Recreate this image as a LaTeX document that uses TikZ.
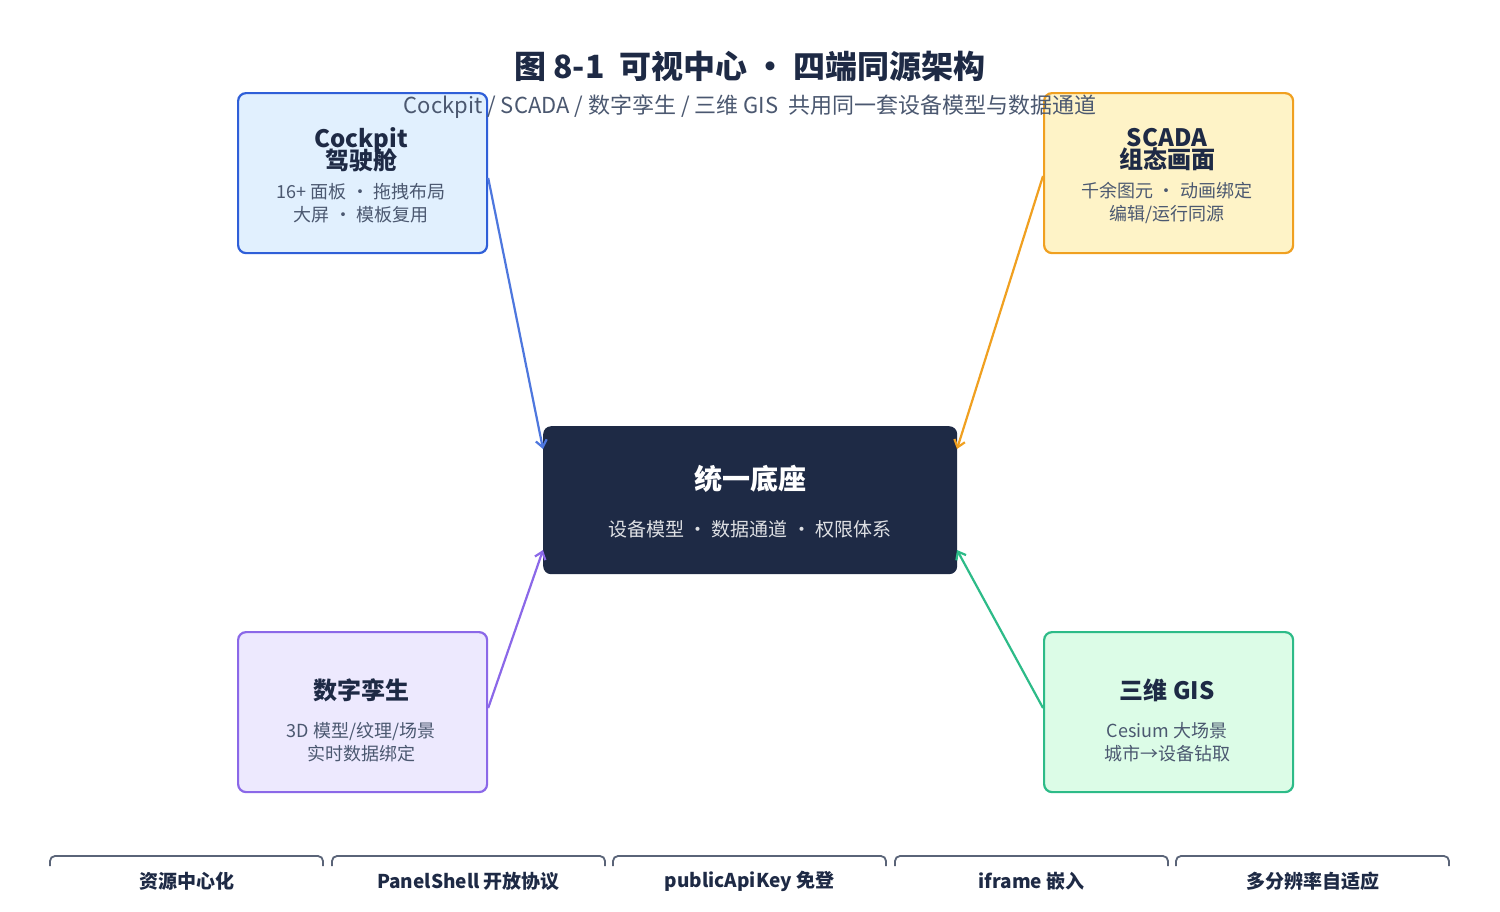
\documentclass[tikz,border=0pt]{standalone}
\usepackage{fontspec}
\setmainfont{Noto Sans CJK SC}
\usetikzlibrary{arrows.meta}
\definecolor{navy}{HTML}{1E2A45}
\definecolor{sub}{HTML}{4B5870}
\definecolor{cb}{HTML}{2F5FD8}\definecolor{cbf}{HTML}{E1F0FE}
\definecolor{sb}{HTML}{F0A020}\definecolor{sbf}{HTML}{FEF3C7}
\definecolor{tb}{HTML}{8B68E8}\definecolor{tbf}{HTML}{EDE9FE}
\definecolor{gb}{HTML}{2DBB88}\definecolor{gbf}{HTML}{DCFCE7}
\definecolor{tab}{HTML}{5A6478}
\begin{document}
\begin{tikzpicture}[x=1pt,y=-1pt,
  box/.style={draw,line width=2.2pt,rounded corners=8pt,minimum width=249pt,minimum height=160pt,anchor=north west},
  ttl/.style={font=\bfseries\fontsize{24}{26}\selectfont,text=navy,align=center},
  dsc/.style={font=\fontsize{18}{23}\selectfont,text=sub,align=center},
  arr/.style={line width=2.2pt,-{Straight Barb[length=7pt,width=11pt]}},
  tabl/.style={font=\bfseries\fontsize{19}{21}\selectfont,text=navy}]
\useasboundingbox (0,0) rectangle (1500,911);
\fill[white] (0,0) rectangle (1500,911);
\node[font=\bfseries\fontsize{32}{34}\selectfont,text=navy] (title) at (750,66) {图 8-1\ \ 可视中心 · 四端同源架构};
\node[box,draw=cb,fill=cbf] (ck) at (237,92) {};
\node[box,draw=sb,fill=sbf] (sc) at (1043,92) {};
\node[box,draw=tb,fill=tbf] (tw) at (237,631) {};
\node[box,draw=gb,fill=gbf] (gi) at (1043,631) {};
\node[font=\fontsize{22}{24}\selectfont,text=sub] (subt) at (750,107) {Cockpit / SCADA / 数字孪生 / 三维 GIS\ \ 共用同一套设备模型与数据通道};
\node[fill=navy,rounded corners=8pt,minimum width=414pt,minimum height=148pt,anchor=north west] (core) at (543,426) {};
\node[font=\bfseries\fontsize{28}{30}\selectfont,text=white] (ct) at (750,479) {统一底座};
\node[font=\fontsize{19}{21}\selectfont,text=white!85!navy] (cd) at (750,529) {设备模型 · 数据通道 · 权限体系};
\node[ttl] (ckt) at (361,150) {Cockpit\\[-4pt]驾驶舱};
\node[dsc] (ckd) at (361,203) {16+ 面板 · 拖拽布局\\大屏 · 模板复用};
\node[ttl] (sct) at (1167,150) {SCADA\\[-4pt]组态画面};
\node[dsc] (scd) at (1167,203) {千余图元 · 动画绑定\\编辑/运行同源};
\node[ttl] (twt) at (361,690) {数字孪生};
\node[dsc] (twd) at (361,742) {3D 模型/纹理/场景\\实时数据绑定};
\node[ttl] (git) at (1167,690) {三维 GIS};
\node[dsc] (gid) at (1167,742) {Cesium 大场景\\城市→设备钻取};
\draw[arr,draw=cb!85!white] (ck.east |- 0,178) -- (543,449);
\draw[arr,draw=sb] (sc.west |- 0,176) -- (957,449);
\draw[arr,draw=tb] (tw.east |- 0,708) -- (543,550);
\draw[arr,draw=gb] (gi.west |- 0,708) -- (957,550);
\foreach \x/\t [count=\i] in {50/资源中心化,332/PanelShell 开放协议,613/publicApiKey 免登,895/iframe 嵌入,1176/多分辨率自适应}{
  \draw[tab,line width=1.8pt,rounded corners=5pt] (\x,866) -- (\x,856) -- (\x+273,856) -- (\x+273,866);
  \node[tabl] (tab\i) at (\x+136.5,881) {\t};
}
\end{tikzpicture}
\end{document}
